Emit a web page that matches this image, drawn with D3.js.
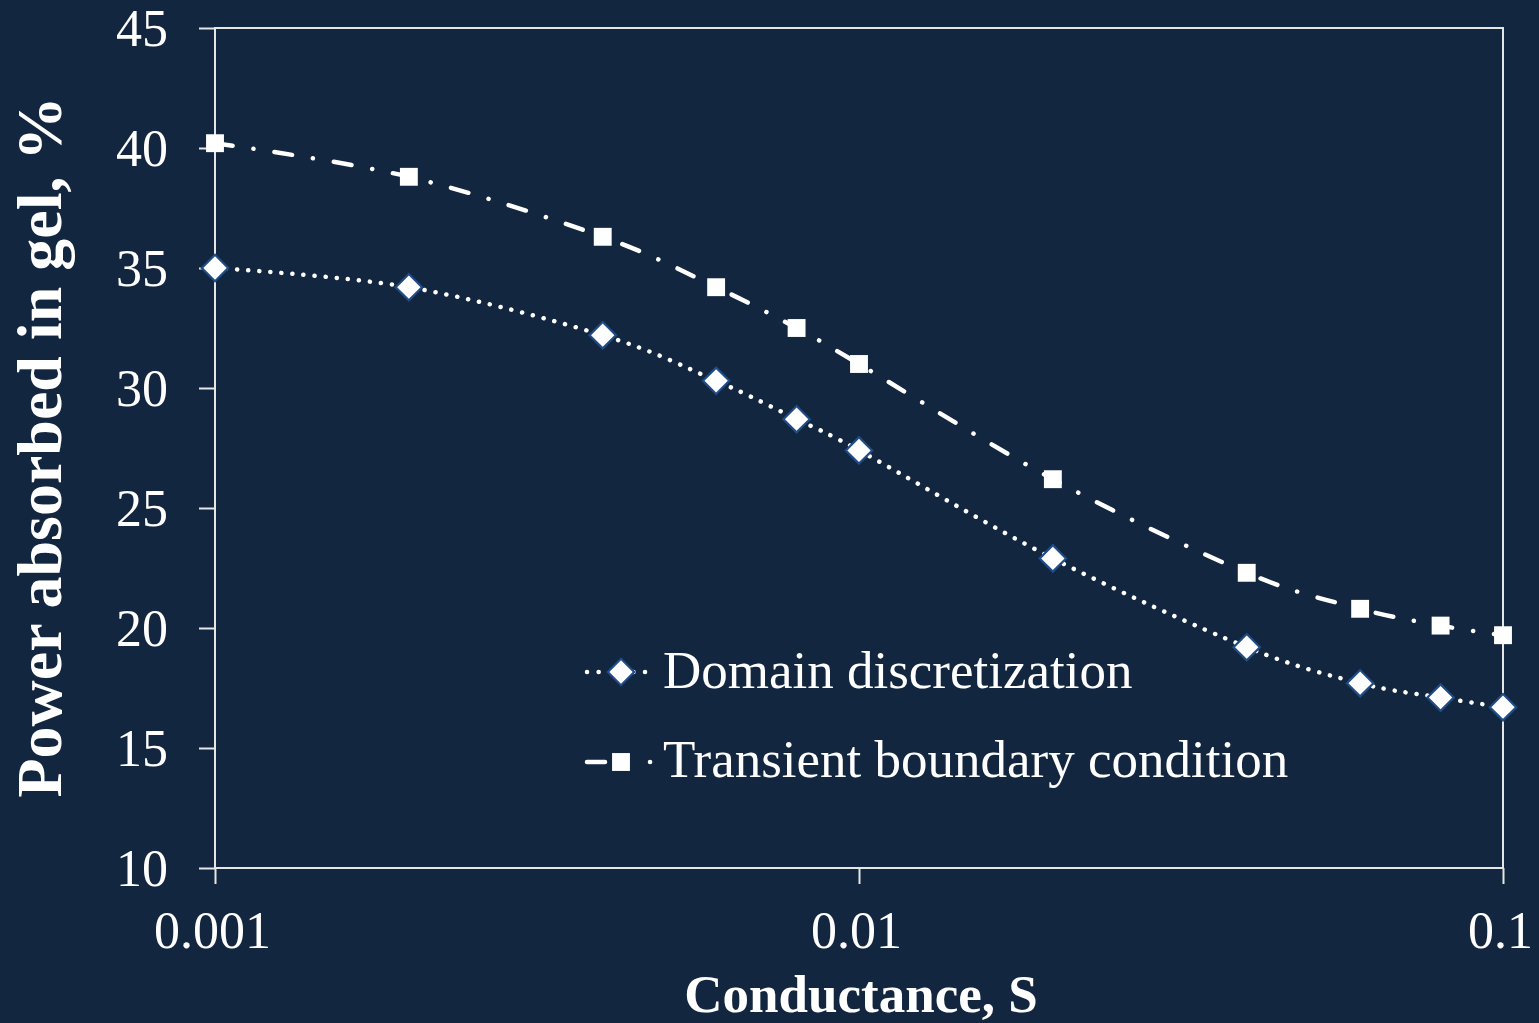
<!DOCTYPE html>
<html>
<head>
<meta charset="utf-8">
<script src="https://cdn.jsdelivr.net/npm/d3@7"></script>
<style>
  html, body { margin: 0; padding: 0; background: #12263f; }
  svg { display: block; }
  text { font-family: "Liberation Serif", "Times New Roman", serif; fill: #ffffff; }
</style>
</head>
<body>
<svg id="chart" width="1539" height="1023"></svg>
<script>
// Conductance values (S) and the share of power absorbed in the gel (%)
const conductance = [0.001, 0.002, 0.004, 0.006, 0.008, 0.01, 0.02, 0.04, 0.06, 0.08, 0.1];
const domainDiscretization = [35.0, 34.2, 32.2, 30.3, 28.7, 27.4, 22.9, 19.2, 17.7, 17.1, 16.7];
const transientBoundary = [40.2, 38.8, 36.3, 34.2, 32.5, 31.0, 26.2, 22.3, 20.8, 20.1, 19.7];
const yTicks = [10, 15, 20, 25, 30, 35, 40, 45];
const xTicks = [0.001, 0.01, 0.1];
const xTickLabels = ["0.001", "0.01", "0.1"];
const seriesNames = ["Domain discretization", "Transient boundary condition"];

const svg = d3.select("#chart");
const W = 1539, H = 1023;
const plotLeft = 215, plotRight = 1503, plotTop = 28, plotBottom = 868;

svg.append("rect").attr("width", W).attr("height", H).attr("fill", "#12263f");

const x = d3.scaleLog().domain([0.001, 0.1]).range([plotLeft, plotRight]);
const y = d3.scaleLinear().domain([10, 45]).range([plotBottom, plotTop]);

const frameColor = "#e6e6e6";

// plot frame
svg.append("rect")
  .attr("x", plotLeft).attr("y", plotTop)
  .attr("width", plotRight - plotLeft).attr("height", plotBottom - plotTop)
  .attr("fill", "none").attr("stroke", frameColor).attr("stroke-width", 2);

// y axis
const yAxis = svg.append("g").attr("transform", `translate(${plotLeft},0)`)
  .call(d3.axisLeft(y).tickValues(yTicks).tickSize(16).tickPadding(31).tickFormat(d3.format("d")));
yAxis.select(".domain").remove();
yAxis.selectAll(".tick line").attr("stroke", frameColor).attr("stroke-width", 2);
yAxis.selectAll(".tick text")
  .attr("fill", "#fff").attr("font-size", 52)
  .attr("font-family", "Liberation Serif, serif").attr("dy", "0.33em");

// x axis
const xAxis = svg.append("g").attr("transform", `translate(0,${plotBottom})`)
  .call(d3.axisBottom(x).tickValues(xTicks).tickSize(16)
    .tickFormat((d, i) => xTickLabels[i]));
xAxis.select(".domain").remove();
xAxis.selectAll(".tick line").attr("stroke", frameColor).attr("stroke-width", 2);
xAxis.selectAll(".tick text")
  .attr("fill", "#fff").attr("font-size", 52)
  .attr("font-family", "Liberation Serif, serif")
  .attr("x", -3).attr("y", 80).attr("dy", 0);

// axis titles
svg.append("text")
  .attr("x", 861).attr("y", 1012)
  .attr("text-anchor", "middle")
  .attr("font-size", 53).attr("font-weight", "bold")
  .text("Conductance, S");

svg.append("text")
  .attr("transform", `translate(61,447) rotate(-90)`)
  .attr("text-anchor", "middle")
  .attr("font-size", 64).attr("font-weight", "bold")
  .text("Power absorbed in gel, %");

// smoothed series lines
const line = d3.line()
  .x(d => x(d[0])).y(d => y(d[1]))
  .curve(d3.curveCatmullRom.alpha(0));

const dotStyle = { dash: "0.1 11", width: 4.5 };
const dashDotStyle = { dash: "18 21 0.1 21", width: 4.5 };

const domainPts = conductance.map((c, i) => [c, domainDiscretization[i]]);
const transientPts = conductance.map((c, i) => [c, transientBoundary[i]]);

svg.append("path").datum(domainPts)
  .attr("d", line).attr("fill", "none").attr("stroke", "#fff")
  .attr("stroke-width", dotStyle.width).attr("stroke-linecap", "round")
  .attr("stroke-dasharray", dotStyle.dash);

svg.append("path").datum(transientPts)
  .attr("d", line).attr("fill", "none").attr("stroke", "#fff")
  .attr("stroke-width", dashDotStyle.width).attr("stroke-linecap", "round")
  .attr("stroke-dasharray", dashDotStyle.dash);

// markers
const diamond = d3.symbol().type(d3.symbolSquare).size(350);
const square = d3.symbol().type(d3.symbolSquare).size(320);

function drawDiamond(g, cx, cy) {
  g.append("path").attr("d", diamond())
    .attr("transform", `translate(${cx},${cy}) rotate(45)`)
    .attr("fill", "#fff").attr("stroke", "#1f4b86").attr("stroke-width", 2.2);
}
function drawSquare(g, cx, cy) {
  g.append("path").attr("d", square())
    .attr("transform", `translate(${cx},${cy})`)
    .attr("fill", "#fff");
}

const markers = svg.append("g");
domainPts.forEach(p => drawDiamond(markers, x(p[0]), y(p[1])));
transientPts.forEach(p => drawSquare(markers, x(p[0]), y(p[1])));

// legend
const legend = svg.append("g");
const legRows = [
  { yPos: 672, base: 688, style: dotStyle, marker: drawDiamond, dash: "0.1 11.5", name: seriesNames[0] },
  { yPos: 762, base: 777, style: dashDotStyle, marker: drawSquare, dash: "18 45 0.1 100", name: seriesNames[1] }
];
legRows.forEach(r => {
  legend.append("line")
    .attr("x1", 587).attr("x2", 656).attr("y1", r.yPos).attr("y2", r.yPos)
    .attr("stroke", "#fff").attr("stroke-width", r.style.width)
    .attr("stroke-linecap", "round")
    .attr("stroke-dasharray", r.dash);
  r.marker(legend, 621, r.yPos);
  legend.append("text")
    .attr("x", 663).attr("y", r.base)
    .attr("font-size", 53)
    .text(r.name);
});
</script>
</body>
</html>
